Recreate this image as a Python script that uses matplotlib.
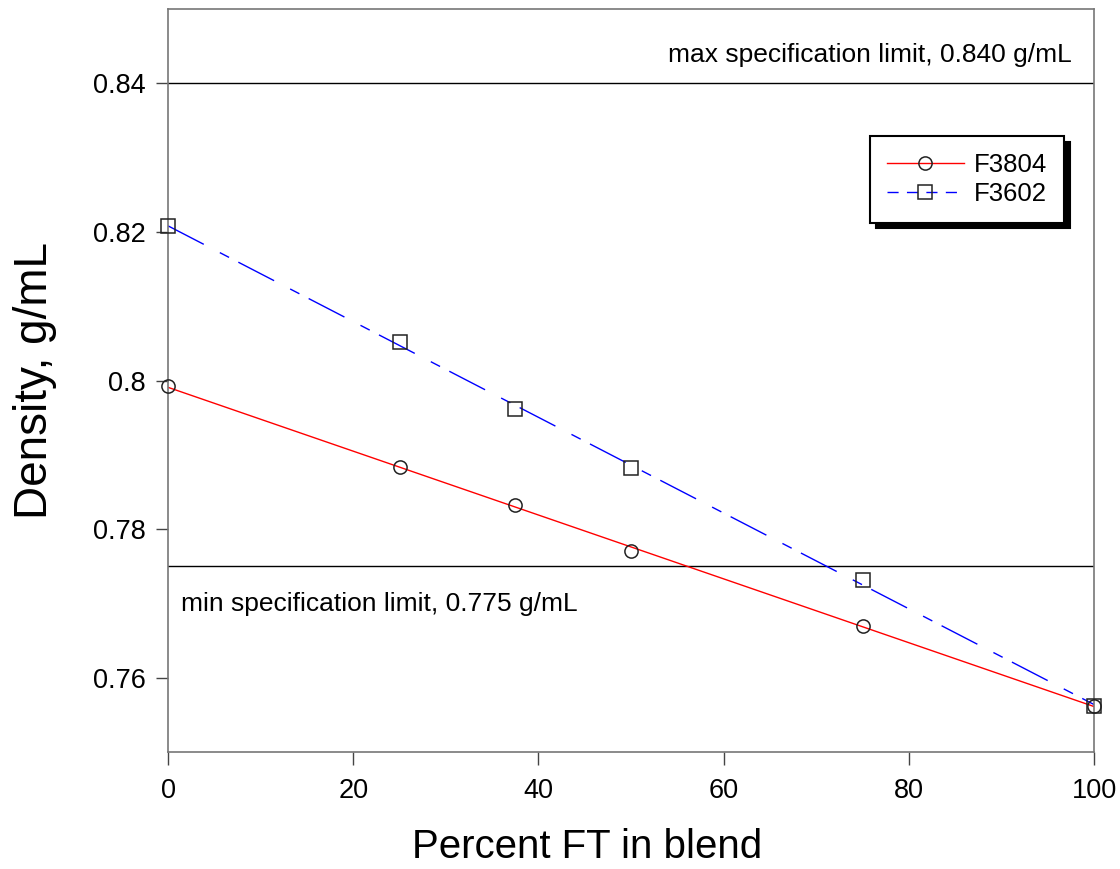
import numpy as np
import matplotlib
matplotlib.use("Agg")
import matplotlib.pyplot as plt
from matplotlib.lines import Line2D

plt.rcParams['font.family'] = ['Liberation Sans', 'DejaVu Sans']

# === данные ===
pct_ft = [0, 25, 37.5, 50, 75, 100]
dens_f3804 = [0.7992, 0.7883, 0.7832, 0.7771, 0.7670, 0.7562]
dens_f3602 = [0.8208, 0.8052, 0.7962, 0.7882, 0.7731, 0.7562]
spec_max = 0.840
spec_min = 0.775
yticks = [0.76, 0.78, 0.80, 0.82, 0.84]
ytick_labels = ["0.76", "0.78", "0.8", "0.82", "0.84"]
xticks = [0, 20, 40, 60, 80, 100]

fig = plt.figure(figsize=(11.2, 8.69), dpi=100)
ax = fig.add_axes([0.15, 0.1346, 0.8268, 0.855])

# линейные аппроксимации
xfit = np.array([0, 100])
k1 = np.polyfit(pct_ft, dens_f3804, 1)
k2 = np.polyfit(pct_ft, dens_f3602, 1)
dash = (29, 13, 7.5, 7.5)
ax.plot(xfit, np.polyval(k1, xfit), color='red', lw=1.0, zorder=2)
ax.plot(xfit, np.polyval(k2, xfit), color='blue', lw=1.0, dashes=dash, zorder=2)

# точки
mk = dict(ls='none', ms=9.5, mfc='none', mec='#222222', mew=1.1, zorder=3, clip_on=False)
ax.plot(pct_ft, dens_f3804, marker='o', **mk)
ax.plot(pct_ft, dens_f3602, marker='s', **mk)

# пределы спецификации
ax.axhline(spec_max, color='black', lw=1.0, zorder=1)
ax.axhline(spec_min, color='black', lw=1.0, zorder=1)
ax.text(97.6, spec_max + 0.0022, "max specification limit, 0.840 g/mL",
        ha='right', va='bottom', fontsize=19)
ax.text(1.4, spec_min - 0.0034, "min specification limit, 0.775 g/mL",
        ha='left', va='top', fontsize=19)

ax.set_xlim(0, 100)
ax.set_ylim(0.75, 0.85)
ax.set_xticks(xticks)
ax.set_yticks(yticks)
ax.set_yticklabels(ytick_labels)
ax.tick_params(direction='out', length=9, width=1, color='#444444',
               labelsize=19.5, pad=7)
ax.tick_params(axis='x', pad=10)
for s in ax.spines.values():
    s.set_color('#777777')
    s.set_linewidth(1.2)

ax.set_xlabel("Percent FT in blend", fontsize=29, labelpad=17)
ax.xaxis.label.set_x(0.4525)
ax.set_ylabel("Density, g/mL", fontsize=33, labelpad=26)

handles = [
    Line2D([], [], color='red', lw=1.0, marker='o', ms=9.5, mfc='none',
           mec='#222222', mew=1.1),
    Line2D([], [], color='blue', lw=1.0, dashes=(8, 6), marker='s', ms=9.5,
           mfc='none', mec='#222222', mew=1.1),
]
leg = ax.legend(handles, ["F3804", "F3602"], loc='upper right',
                bbox_to_anchor=(0.9676, 0.829), borderaxespad=0,
                fontsize=18.5, fancybox=False,
                framealpha=1, edgecolor='black', handlelength=3.0,
                handletextpad=0.4, labelspacing=0.2, borderpad=0.65,
                shadow={'color': 'black', 'alpha': 1, 'ox': 4, 'oy': -4})
leg.get_frame().set_linewidth(1.5)

fig.savefig("out.png", dpi=100)
